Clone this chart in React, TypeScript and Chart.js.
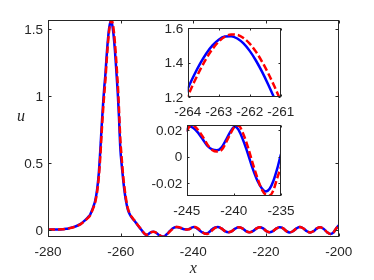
import React, { useEffect, useRef } from "react";
import { Chart, registerables } from "chart.js";
Chart.register(...registerables);

// ---- data ----
const coreX = [
  -280, -278, -276, -275, -274, -273, -272, -271, -270, -269, -268.4, -268, -267.5, -267, -266.5, -266, -265.6, -265.2, -264.8, -264.5,
  -264.2, -264, -263.8, -263.6, -263.4, -263.2, -263, -262.8, -262.6, -262.4, -262.2, -262, -261.8, -261.6, -261.4, -261.2, -261, -260.8,
  -260.5, -260.1, -259.7, -259.3, -258.9, -258.5, -258, -257.4, -256.7, -256, -255.3, -254.7,
  -254, -253.5, -253, -252.5, -252, -251.5, -251, -250.5, -250, -249.3, -248.5, -248, -247.3, -246.5, -246, -245.5,
  -245, -244.7, -244.3, -243.8, -243.3, -242.8, -242.3, -241.8, -241.3, -240.8, -240.3, -239.9, -239.5, -239, -238.5, -238, -237.5, -237,
  -236.6, -236.2, -235.8, -235.4, -235, -234.5, -234, -233.3,
];
const blueCore = [
  0.003, 0.004, 0.006, 0.009, 0.015, 0.022, 0.032, 0.046, 0.068, 0.095, 0.115, 0.14, 0.175, 0.22, 0.3, 0.43, 0.6, 0.79, 0.96, 1.07,
  1.164, 1.2465, 1.3236, 1.3929, 1.4525, 1.4997, 1.5333, 1.5516, 1.554, 1.5404, 1.5113, 1.4679, 1.4117, 1.3451, 1.2701, 1.1894, 1.1051, 1.0193,
  0.86, 0.61, 0.48, 0.37, 0.28, 0.21, 0.15, 0.112, 0.085, 0.062, 0.035, 0.015,
  -0.01, -0.026, -0.035, -0.033, -0.022, -0.014, -0.012, -0.016, -0.026, -0.04, -0.049, -0.047, -0.031, -0.008, 0.005, 0.015,
  0.0205, 0.0225, 0.0215, 0.018, 0.013, 0.008, 0.0055, 0.0048, 0.007, 0.013, 0.0195, 0.0225, 0.02, 0.012, 0.002, -0.009, -0.018, -0.024,
  -0.026, -0.024, -0.018, -0.009, 0.002, 0.013, 0.02, 0.023,
];
const redCore = [
  0.003, 0.004, 0.006, 0.009, 0.014, 0.021, 0.031, 0.044, 0.065, 0.09, 0.11, 0.133, 0.167, 0.208, 0.28, 0.4, 0.55, 0.74, 0.91, 1.02,
  1.119, 1.2021, 1.2826, 1.3568, 1.4234, 1.4788, 1.5218, 1.5506, 1.564, 1.5616, 1.5435, 1.5102, 1.4634, 1.4043, 1.3356, 1.2591, 1.1766, 1.0922,
  0.93, 0.68, 0.53, 0.4, 0.305, 0.228, 0.16, 0.118, 0.088, 0.064, 0.038, 0.017,
  -0.008, -0.025, -0.035, -0.034, -0.024, -0.015, -0.012, -0.015, -0.024, -0.038, -0.05, -0.051, -0.035, -0.012, 0.001, 0.012,
  0.019, 0.0225, 0.0232, 0.02, 0.015, 0.009, 0.005, 0.0038, 0.005, 0.011, 0.018, 0.0225, 0.0232, 0.017, 0.007, -0.005, -0.016, -0.025,
  -0.0285, -0.029, -0.025, -0.016, -0.0075, 0.005, 0.016, 0.023,
];
const tailX = [
  -232.3, -231.3, -230.4, -229.5, -228.5, -227.5, -226.5, -225.5, -224.6, -223.6, -222.6, -221.7, -220.8, -219.9, -219, -218.1,
  -217.1, -216.2, -215.3, -214.4, -213.5, -212.6, -211.6, -210.7, -209.8, -208.8, -207.8, -206.9, -206, -205.1, -204.2, -203.2,
  -202.3, -201.5, -200.7, -200,
];
const tailU = [
  0.012, -0.008, -0.017, -0.01, 0.01, 0.021, 0.012, -0.008, -0.017, -0.008, 0.012, 0.021, 0.012, -0.008, -0.017, -0.008,
  0.012, 0.021, 0.012, -0.008, -0.018, -0.009, 0.012, 0.022, 0.013, -0.008, -0.019, -0.008, 0.012, 0.02, 0.01, -0.016,
  -0.03, -0.02, 0.012, 0.035,
];

const xs = [...coreX, ...tailX];
const blueU = [...blueCore, ...tailU];
const redU = [...redCore, ...tailU];

const mainXTicks = [-280, -260, -240, -220, -200];
const mainYTicks = [0, 0.5, 1, 1.5];
const in1XTicks = [-264, -263, -262, -261];
const in1YTicks = [1.2, 1.4, 1.6];
const in2XTicks = [-245, -240, -235];
const in2YTicks = [-0.02, 0, 0.02];

const FONT = '13.5px "Liberation Sans", Arial, Helvetica, sans-serif';
const AX = "#262626";

function fmt(v: number) {
  return String(Math.round(v * 10000) / 10000);
}

function framePlugin(tickLen: number, titles: boolean, yPad: number) {
  return {
    id: "frame",
    afterDatasetsDraw(chart: any) {
      const { ctx, chartArea: a, scales } = chart;
      ctx.save();
      ctx.strokeStyle = AX;
      ctx.lineWidth = 1;
      const L = Math.round(a.left) + 0.5, R = Math.round(a.right) - 0.5;
      const T = Math.round(a.top) + 0.5, B = Math.round(a.bottom) - 0.5;
      ctx.strokeRect(L, T, R - L, B - T);
      ctx.beginPath();
      ctx.fillStyle = AX;
      ctx.font = FONT;
      for (const t of scales.x.ticks) {
        const p = Math.round(scales.x.getPixelForValue(t.value)) + 0.5;
        ctx.moveTo(p, B); ctx.lineTo(p, B - tickLen);
        ctx.moveTo(p, T); ctx.lineTo(p, T + tickLen);
        ctx.textAlign = "center";
        ctx.textBaseline = "alphabetic";
        ctx.fillText(fmt(t.value), scales.x.getPixelForValue(t.value), a.bottom + 19);
      }
      for (const t of scales.y.ticks) {
        const p = Math.round(scales.y.getPixelForValue(t.value)) + 0.5;
        ctx.moveTo(L, p); ctx.lineTo(L + tickLen, p);
        ctx.moveTo(R, p); ctx.lineTo(R - tickLen, p);
        ctx.textAlign = "right";
        ctx.textBaseline = "alphabetic";
        ctx.fillText(fmt(t.value), a.left - yPad, scales.y.getPixelForValue(t.value) + 4.8);
      }
      ctx.stroke();
      if (titles) {
        ctx.font = 'italic 16px "Liberation Serif", "Times New Roman", serif';
        ctx.textAlign = "center";
        ctx.textBaseline = "middle";
        ctx.fillText("x", (a.left + a.right) / 2, a.bottom + 32);
        ctx.fillText("u", a.left - 27, (a.top + a.bottom) / 2 - 12);
      }
      ctx.restore();
    },
  };
}

type Box = { left: number; right: number; top: number; bottom: number };

function makeConfig(
  box: Box, xMin: number, xMax: number, yMin: number, yMax: number,
  xTicks: number[], yTicks: number[], yPad: number, tickLen: number, titles: boolean
) {
  const W = 374, H = 280;
  return {
    type: "line",
    data: {
      datasets: [
        {
          data: xs.map((x, i) => ({ x, y: redU[i] })),
          borderColor: "#FF0000",
          borderWidth: 2.5,
          borderDash: [7, 3],
          pointRadius: 0,
          cubicInterpolationMode: "monotone",
          fill: false,
        },
        {
          data: xs.map((x, i) => ({ x, y: blueU[i] })),
          borderColor: "#0000FF",
          borderWidth: 2.5,
          pointRadius: 0,
          cubicInterpolationMode: "monotone",
          fill: false,
        },
      ],
    },
    options: {
      animation: false,
      responsive: false,
      events: [],
      layout: {
        padding: {
          left: box.left,
          right: W - box.right,
          top: box.top,
          bottom: H - box.bottom,
        },
      },
      plugins: { legend: { display: false }, tooltip: { enabled: false } },
      scales: {
        x: {
          type: "linear",
          min: xMin,
          max: xMax,
          afterBuildTicks: (s: any) => { s.ticks = xTicks.map((v) => ({ value: v })); },
          afterFit: (s: any) => { s.height = 0; },
          grid: { display: false, drawTicks: false },
          border: { display: false },
          ticks: { display: false },
        },
        y: {
          type: "linear",
          min: yMin,
          max: yMax,
          afterBuildTicks: (s: any) => { s.ticks = yTicks.map((v) => ({ value: v })); },
          afterFit: (s: any) => { s.width = 0; },
          grid: { display: false, drawTicks: false },
          border: { display: false },
          ticks: { display: false },
        },
      },
    },
    plugins: [framePlugin(tickLen, titles, yPad)],
  } as any;
}

function Layer({ cfg }: { cfg: any }) {
  const ref = useRef<HTMLCanvasElement>(null);
  useEffect(() => {
    const c = new Chart(ref.current as HTMLCanvasElement, cfg);
    return () => c.destroy();
  }, []);
  return (
    <canvas
      ref={ref}
      width={374}
      height={280}
      style={{ position: "absolute", left: 0, top: 0, width: 374, height: 280 }}
    />
  );
}

export default function App() {
  const main = makeConfig({ left: 48, right: 338.7, top: 20, bottom: 237 }, -280, -200, -0.052, 1.567,
    mainXTicks, mainYTicks, 5, 3, true);
  const in1 = makeConfig({ left: 187.7, right: 280.7, top: 28.3, bottom: 96.7 }, -264, -261, 1.2, 1.6,
    in1XTicks, in1YTicks, 4.5, 2, false);
  const in2 = makeConfig({ left: 186.7, right: 281, top: 125, bottom: 195.7 }, -245, -235, -0.0292, 0.0237,
    in2XTicks, in2YTicks, 4.5, 2, false);
  return (
    <div style={{ position: "fixed", left: 0, top: 0, width: 374, height: 280, background: "#fff" }}>
      <Layer cfg={main} />
      <Layer cfg={in1} />
      <Layer cfg={in2} />
    </div>
  );
}
